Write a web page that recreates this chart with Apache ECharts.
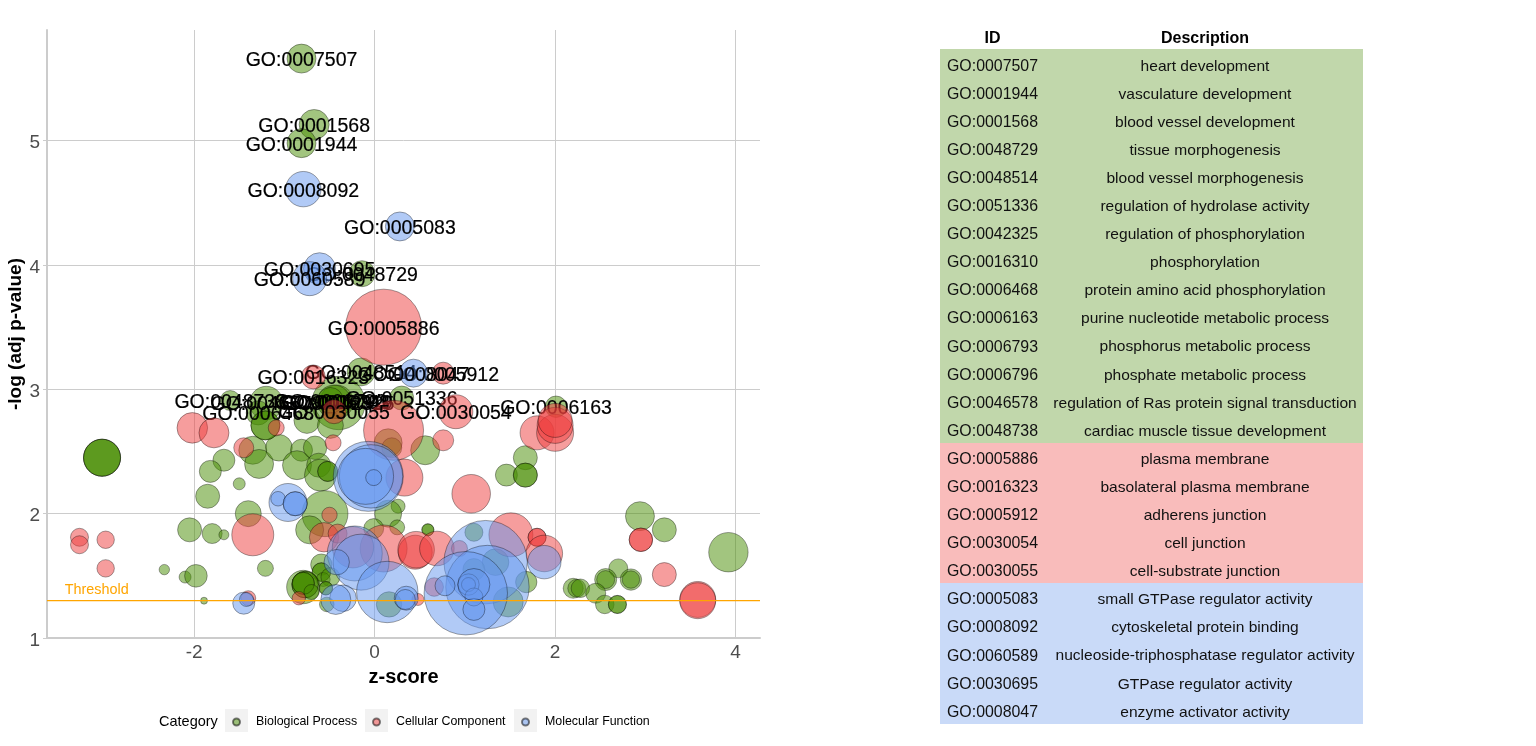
<!DOCTYPE html>
<html><head><meta charset="utf-8">
<style>html,body{margin:0;padding:0;background:#fff}#c{width:1536px;height:746px}</style>
<script src="https://cdn.jsdelivr.net/npm/echarts@6/dist/echarts.min.js"></script>
</head><body><div id="c"></div>
<script>
// [z-score, -log(adj p), gene count, GO id if labelled]
const biologicalProcess = [
[-0.81,5.66,210,"GO:0007507"],[-0.67,5.13,225,"GO:0001568"],[-0.81,4.98,210,"GO:0001944"],[-0.14,3.93,169,"GO:0048729"],
[-0.15,3.14,196,"GO:0048514"],[0.30,2.93,144,"GO:0051336"],[2.01,2.86,115,"GO:0006163"],[-1.60,2.91,100,"GO:0048738"],
[-1.20,2.89,279,"GO:0046578"],[-0.40,2.89,713,"GO:0042325"],[-0.42,2.90,279,"GO:0016310"],[-0.45,2.90,279,"GO:0006793"],
[-0.49,2.91,169,"GO:0006796"],[-1.29,2.81,144,"GO:0006468"],
[-3.02,2.45,342],[-3.02,2.45,342],[-3.02,2.45,342],[-1.67,2.43,121],[-1.82,2.34,121],[-1.50,2.24,36],[-1.85,2.14,144],
[-1.35,2.51,196],[-1.28,2.40,210],[-1.06,2.53,177],[-0.81,2.51,121],[-0.86,2.39,210],[-0.66,2.53,137],[-0.62,2.39,144],
[-0.60,2.31,256],[-0.52,2.34,100],[-0.52,2.34,100],[-0.75,2.75,169],[-0.49,2.71,169],[-1.21,2.71,210],[-1.21,2.71,210],
[0.15,2.57,196],[0.19,2.53,100],[0.56,2.51,210],[0.26,2.06,49],[0.15,2.00,182],[0.25,1.89,56],[-0.01,1.88,100],
[-0.55,2.00,529],[-1.40,2.00,169],[-2.05,1.87,144],[-1.80,1.84,100],[-1.67,1.83,25],[-0.72,1.87,196],[-2.33,1.55,27],
[-2.10,1.49,36],[-1.98,1.50,128],[-1.21,1.56,64],[-1.89,1.30,12],[-0.59,1.59,114],[-0.59,1.53,86],[-0.59,1.53,86],
[-0.57,1.47,49],[-0.49,1.49,90],[-0.79,1.41,279],[-0.77,1.43,177],[-0.77,1.43,177],[-0.79,1.44,121],[-0.79,1.44,121],
[-0.70,1.37,56],[-0.54,1.40,45],[-0.54,1.40,45],[-0.53,1.27,53],[0.16,1.27,161],[1.67,2.45,144],[1.46,2.31,121],
[1.67,2.31,144],[1.67,2.31,144],[2.94,1.98,210],[3.21,1.87,144],[3.92,1.69,388],[2.70,1.56,90],[2.56,1.47,121],
[2.56,1.47,81],[2.84,1.47,114],[2.84,1.47,76],[2.20,1.40,100],[2.24,1.40,81],[2.28,1.40,86],[2.45,1.36,100],
[2.55,1.27,86],[2.69,1.27,81],[2.69,1.27,81],[0.59,1.87,36],[0.59,1.87,36],[1.10,1.85,81],[1.34,1.61,177],[1.10,1.55,121],
[1.68,1.45,114],[1.48,1.29,225]
];
const cellularComponent = [
[0.10,3.50,1444,"GO:0005886"],[-0.68,3.10,144,"GO:0016323"],[0.76,3.13,121,"GO:0005912"],[0.90,2.82,289,"GO:0030054"],
[-0.45,2.82,144,"GO:0030055"],[-2.02,2.69,234],[-1.78,2.65,225],[-1.45,2.53,100],[-1.09,2.69,64],[-0.46,2.57,64],
[0.21,2.67,900],[0.33,2.29,342],[0.76,2.59,110],[-0.50,1.99,59],[-1.35,1.83,441],[-3.27,1.81,81],[-3.27,1.75,81],
[-2.98,1.79,76],[-2.98,1.56,76],[-1.40,1.32,56],[-0.56,1.81,216],[-0.41,1.84,90],[-0.84,1.32,45],[0.10,1.72,552],
[0.45,1.69,289],[-0.24,1.73,428],[0.48,1.31,36],[1.07,2.16,372],[1.80,2.65,289],[2.00,2.65,342],[2.00,2.71,324],
[2.00,2.75,289],[2.95,1.79,137],[2.95,1.79,137],[3.21,1.51,144],[3.58,1.31,324],[3.58,1.30,324],[0.46,1.71,335],
[0.69,1.72,299],[1.51,1.83,484],[1.80,1.81,81],[1.80,1.81,81],[1.88,1.68,335],[0.94,1.72,64],[0.66,1.41,86]
];
const molecularFunction = [
[-0.79,4.61,313,"GO:0008092"],[0.28,4.31,210,"GO:0005083"],[-0.61,3.97,256,"GO:0030695"],[-0.72,3.89,289,"GO:0060589"],
[0.43,3.13,196,"GO:0008047"],[-0.96,2.09,361],[-1.07,2.12,53],[-0.88,2.08,144],[-0.88,2.08,144],[-0.07,2.30,1225],
[-0.04,2.30,1005],[-0.10,2.30,784],[-0.01,2.29,64],[-1.45,1.28,121],[-1.42,1.31,49],[-0.22,1.68,756],[-0.15,1.61,784],
[-0.42,1.61,161],[-0.35,1.32,177],[-0.43,1.31,225],[0.14,1.37,942],[0.35,1.32,144],[0.34,1.31,100],[1.88,1.61,279],
[1.23,1.61,1739],[1.25,1.41,1739],[1.01,1.36,1739],[1.04,1.43,114],[1.04,1.43,49],[0.78,1.42,100],[1.10,1.33,81],
[1.10,1.23,121],[1.10,1.43,256]
];
const xTicks = [-2,0,2,4];
const yTicks = [1,2,3,4,5];
const threshold = 1.3;
const categories = ["Biological Process","Cellular Component","Molecular Function"];
const tableIds = ["GO:0007507","GO:0001944","GO:0001568","GO:0048729","GO:0048514","GO:0051336","GO:0042325","GO:0016310","GO:0006468","GO:0006163","GO:0006793","GO:0006796","GO:0046578","GO:0048738","GO:0005886","GO:0016323","GO:0005912","GO:0030054","GO:0030055","GO:0005083","GO:0008092","GO:0060589","GO:0030695","GO:0008047"];
const tableDesc = ["heart development","vasculature development","blood vessel development","tissue morphogenesis","blood vessel morphogenesis","regulation of hydrolase activity","regulation of phosphorylation","phosphorylation","protein amino acid phosphorylation","purine nucleotide metabolic process","phosphorus metabolic process","phosphate metabolic process","regulation of Ras protein signal transduction","cardiac muscle tissue development","plasma membrane","basolateral plasma membrane","adherens junction","cell junction","cell-substrate junction","small GTPase regulator activity","cytoskeletal protein binding","nucleoside-triphosphatase regulator activity","GTPase regulator activity","enzyme activator activity"];
const tableGroup = [0,0,0,0,0,0,0,0,0,0,0,0,0,0,1,1,1,1,1,2,2,2,2,2];

const FONT = '"Liberation Sans", Arial, sans-serif';
const xMin = -3.63, xMax = 4.27, yMin = 1, yMax = 5.89;
const fills = ['rgba(69,139,0,0.5)','rgba(238,59,59,0.5)','rgba(100,149,237,0.5)'];
const rowFills = ['#C1D7AB','#F9BCBB','#C9DAF8'];
const GRID = '#cccccc';

function bubble(name, rows, i){
  return {
    type:'scatter', name, silent:true, z:2+i,
    data: rows.map(r=>({value:[r[0],r[1],r[2]], name:r[3]||'', label:{show:!!r[3]}})),
    symbolSize: v=>2*Math.sqrt(v[2]),
    itemStyle:{color:fills[i], borderColor:'rgba(0,0,0,0.5)', borderWidth:0.7, opacity:1},
    label:{position:'inside', formatter:'{b}', color:'#000', fontFamily:FONT, fontSize:19.5, textBorderColor:'#000', textBorderWidth:0.2},
    labelLayout:{hideOverlap:false, dy:2}
  };
}
const graphics = [];
[225,365,514].forEach(x=>graphics.push({type:'rect',z:-1,silent:true,shape:{x,y:709,width:23,height:23},style:{fill:'#f2f2f2'}}));
graphics.push({type:'text',silent:true,style:{x:159,y:722,text:'Category',fill:'#000',font:'14.5px '+FONT,textVerticalAlign:'middle'}});
const tL=940,tR=1363,tTop=49,rowH=28.125,textPitch=28.09,c1=992.5,c2=1205;
graphics.push({type:'text',silent:true,style:{x:c1,y:38.5,text:'ID',fill:'#000',font:'bold 16px '+FONT,textAlign:'center',textVerticalAlign:'middle'}});
graphics.push({type:'text',silent:true,style:{x:c2,y:38.5,text:'Description',fill:'#000',font:'bold 16px '+FONT,textAlign:'center',textVerticalAlign:'middle'}});
tableIds.forEach((id,i)=>{
  const y=tTop+i*rowH, y0=Math.round(y), y1=Math.round(y+rowH), ty=tTop+17.3+i*textPitch;
  graphics.push({type:'rect',silent:true,shape:{x:tL,y:y0,width:tR-tL,height:y1-y0},style:{fill:rowFills[tableGroup[i]]}});
  graphics.push({type:'text',silent:true,z:2,style:{x:c1,y:ty,text:id,fill:'#111',font:'15.9px '+FONT,textAlign:'center',textVerticalAlign:'middle'}});
  graphics.push({type:'text',silent:true,z:2,style:{x:c2,y:ty,text:tableDesc[i],fill:'#111',font:'15.55px '+FONT,textAlign:'center',textVerticalAlign:'middle'}});
});
const legendAt=[232,372,521];
const chart = echarts.init(document.getElementById('c'),null,{renderer:'canvas'});
chart.setOption({
  animation:false, backgroundColor:'#fff',
  grid:{left:47,right:776,top:30,bottom:108,containLabel:false},
  legend: categories.map((c,i)=>({
    data:[c], left:legendAt[i], top:716, padding:0, itemWidth:7, itemHeight:7, icon:'circle', selectedMode:false,
    textStyle:{fontFamily:FONT,fontSize:12.4,color:'#000',padding:[0,0,0,11]}
  })),
  xAxis:{type:'value',min:xMin,max:xMax,name:'z-score',nameLocation:'middle',nameGap:29,
    nameTextStyle:{fontFamily:FONT,fontWeight:'bold',fontSize:20,color:'#000'},
    axisLine:{show:true,onZero:false,lineStyle:{color:GRID,width:2}},
    axisTick:{show:false,customValues:xTicks},
    axisLabel:{customValues:xTicks,fontFamily:FONT,fontSize:19,color:'#4d4d4d',margin:5},
    splitLine:{show:true,lineStyle:{color:GRID,width:1}}},
  yAxis:{type:'value',min:yMin,max:yMax,name:'-log (adj p-value)',nameLocation:'middle',nameGap:19,
    nameTextStyle:{fontFamily:FONT,fontWeight:'bold',fontSize:19,color:'#000'},
    axisLine:{show:true,onZero:false,lineStyle:{color:GRID,width:2}},
    axisTick:{show:true,length:4,customValues:yTicks,lineStyle:{color:GRID}},
    axisLabel:{customValues:yTicks,margin:7,formatter:'{t|{value}}',
      rich:{t:{fontFamily:FONT,fontSize:19,color:'#4d4d4d',padding:[5,0,0,0]}}},
    splitLine:{show:true,lineStyle:{color:GRID,width:1}}},
  series:[
    bubble(categories[0],biologicalProcess,0),
    bubble(categories[1],cellularComponent,1),
    bubble(categories[2],molecularFunction,2),
    {type:'line',silent:true,z:6,symbol:'none',data:[[xMin,threshold],[xMax,threshold]],lineStyle:{color:'#FFA500',width:1.3}},
    {type:'scatter',silent:true,z:6,symbolSize:0,itemStyle:{opacity:1},data:[[-3.08,1.385]],
      label:{show:true,position:'inside',formatter:'Threshold',color:'#FFA500',fontFamily:FONT,fontSize:14.4}}
  ],
  graphic:{elements:graphics}
});
</script></body></html>
